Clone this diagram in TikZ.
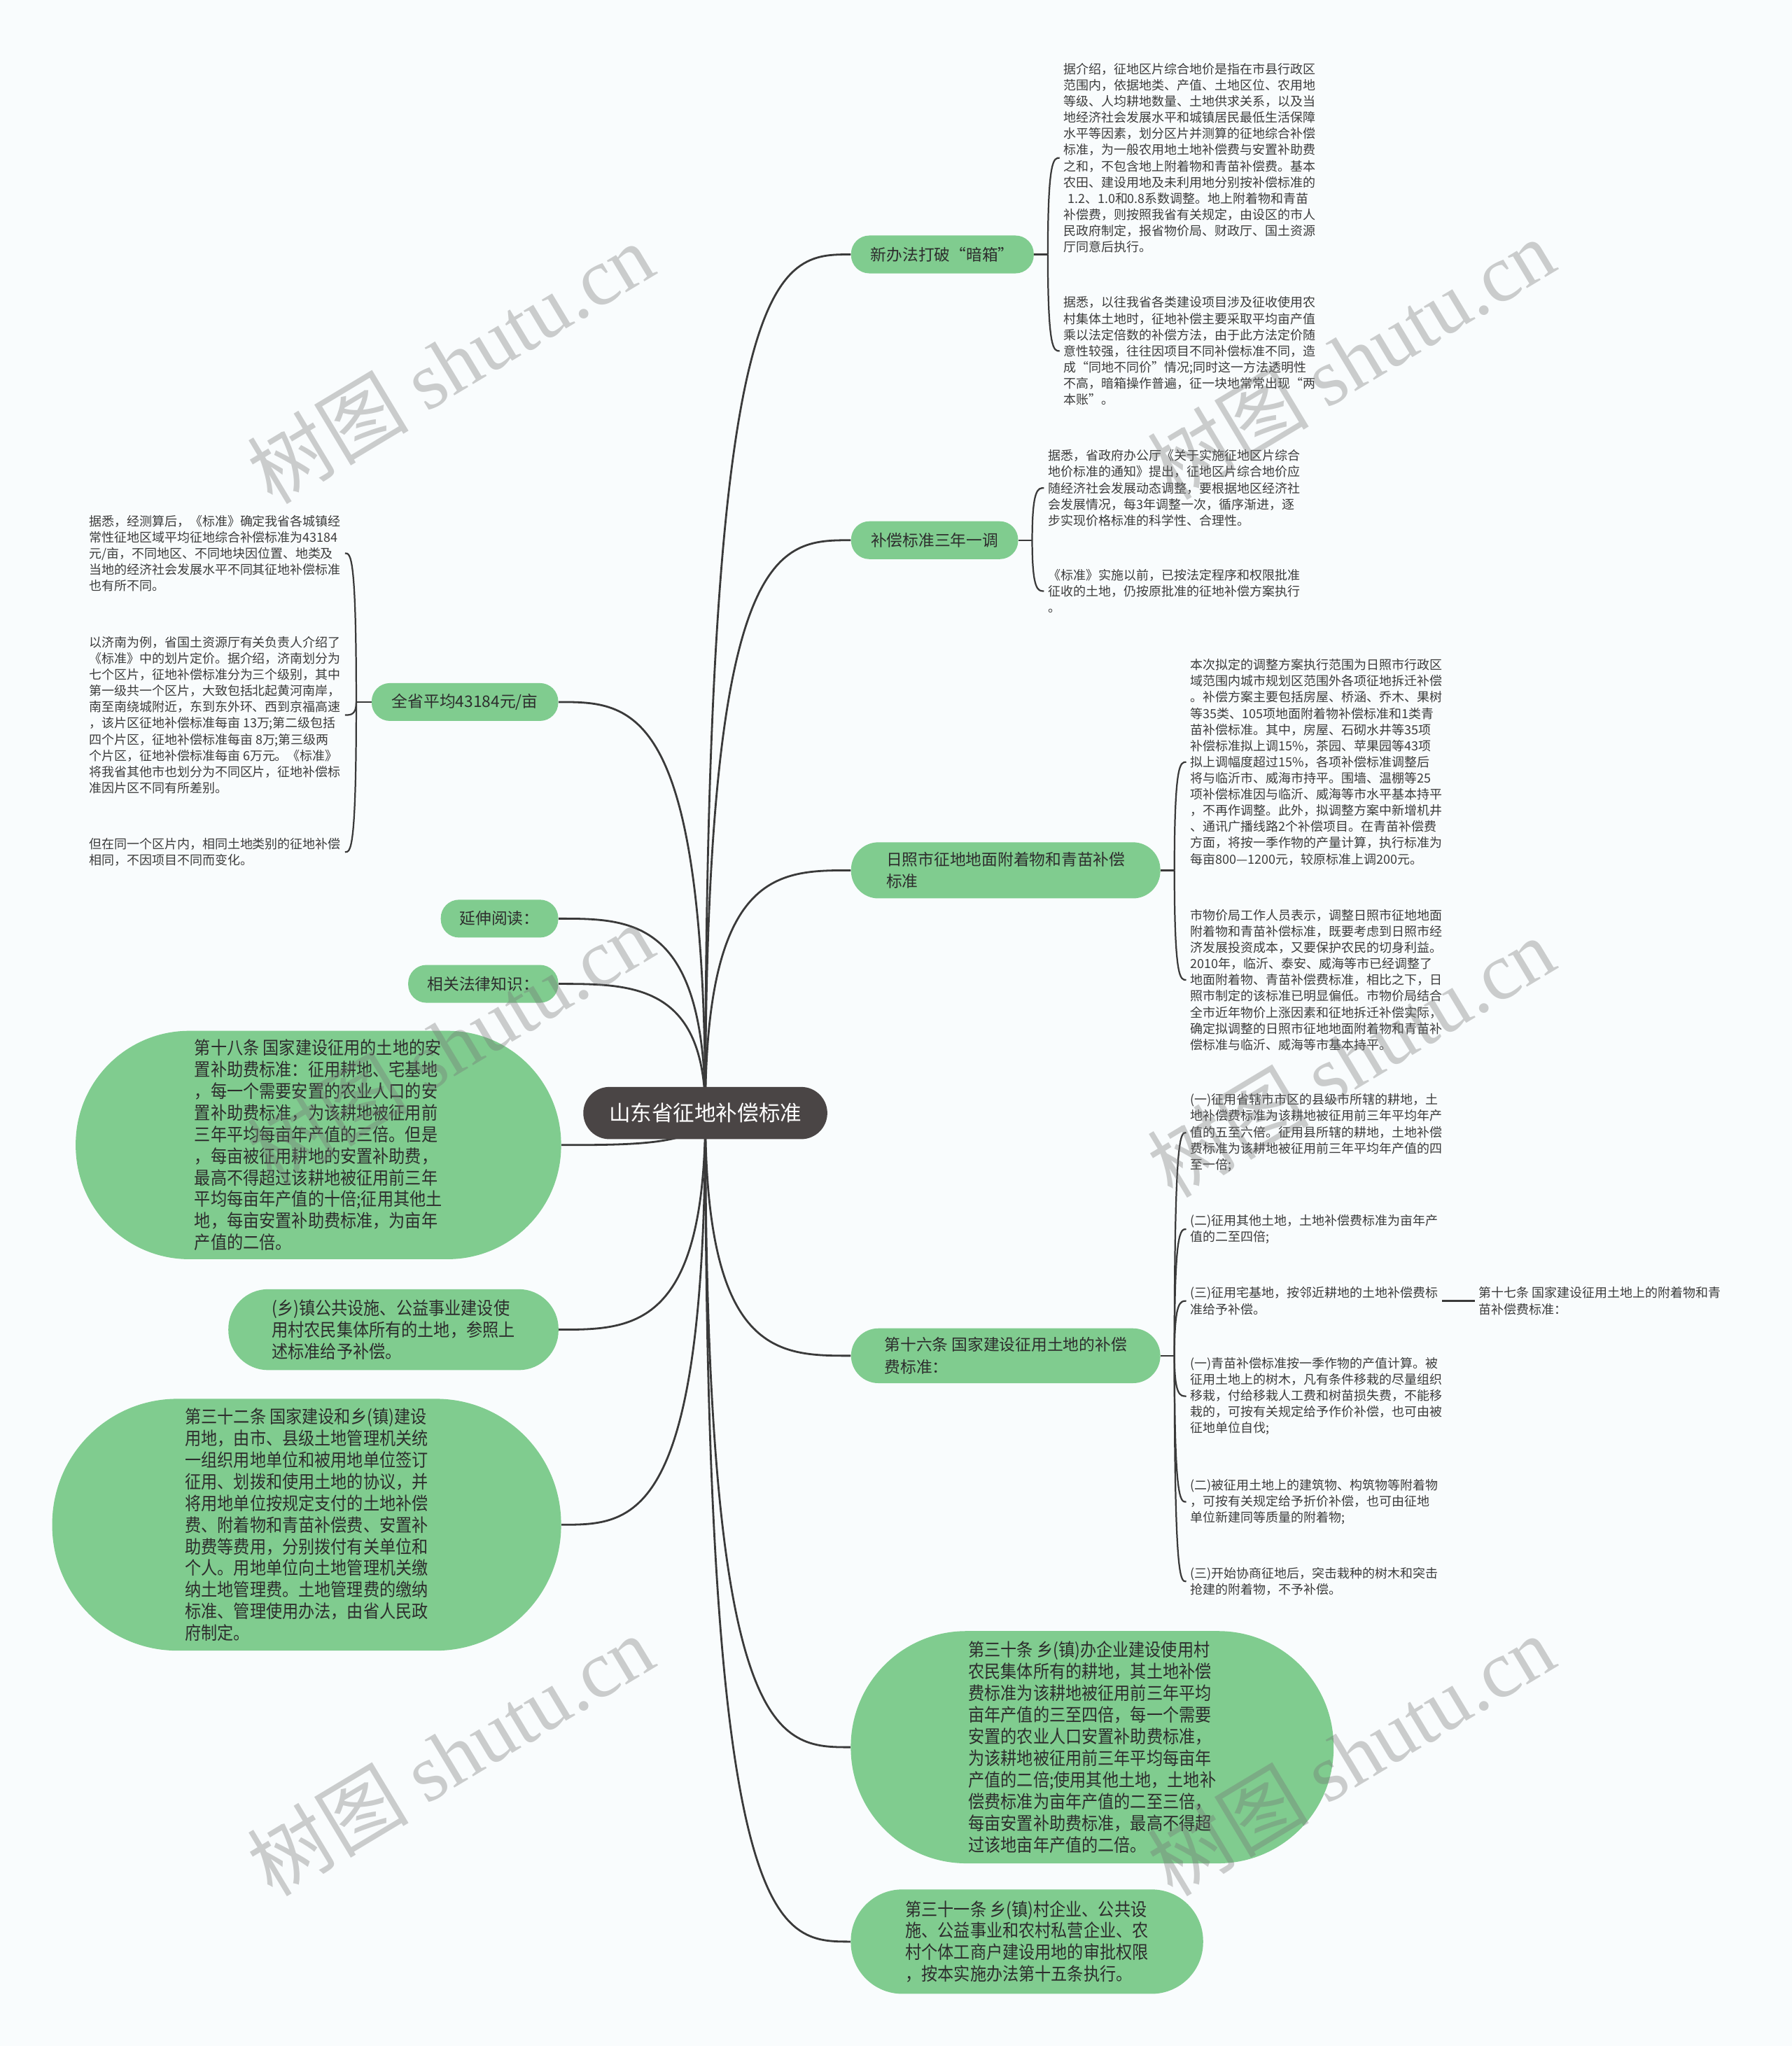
\documentclass[tikz,border=0pt]{standalone}
\usepackage{fontspec}
\setmainfont{Noto Sans CJK SC}
\newfontfamily\bubblefont[FakeStretch=0.9]{Noto Sans CJK SC}
\newfontfamily\wmlatin{Liberation Serif}
\usetikzlibrary{calc}
\definecolor{bgc}{RGB}{249,252,253}
\definecolor{grn}{RGB}{128,204,143}
\definecolor{rootc}{RGB}{74,69,69}
\definecolor{edgec}{RGB}{58,58,58}
\definecolor{txt}{RGB}{45,45,45}
\definecolor{leaftxt}{RGB}{60,60,60}
\pgfdeclarelayer{bgl}
\pgfdeclarelayer{edgelayer}
\pgfdeclarelayer{wmlayer}
\pgfsetlayers{bgl,edgelayer,main,wmlayer}
\tikzset{
 edge/.style={draw=edgec, line width=1.5pt},
 leafedge/.style={draw=edgec, line width=1.2pt},
 root/.style={fill=rootc, text=white, rounded corners=20pt, minimum width=187pt, minimum height=40pt, inner sep=0pt, font=\fontsize{16.4}{20}\selectfont},
 branch/.style={fill=grn, text=txt, rounded corners=14pt, minimum height=29pt, inner sep=0pt, align=left, font=\fontsize{12.2}{17}\selectfont},
 bubble/.style={fill=grn, text=txt, inner sep=0pt, align=left, font=\bubblefont\fontsize{13.8}{16.6}\selectfont},
 leaf/.style={text=leaftxt, inner xsep=3pt, inner ysep=0pt, align=left, font=\fontsize{9.65}{12.4}\selectfont},
 wm/.style={text=black!55, opacity=0.35, rotate=31, inner sep=0pt, font=\fontsize{62}{62}\selectfont},
}
\newcommand\cconn[2]{\draw[edge] (#1) .. controls (#1 |- #2) and ($(#1 |- #2)!0.5!(#2)$) .. (#2);}
\newcommand\lconn[2]{\draw[leafedge] (#1) .. controls (#1 |- #2) and ($(#1 |- #2)!0.5!(#2)$) .. (#2);}
\begin{document}
\begin{tikzpicture}[x=1pt,y=-1pt]
\useasboundingbox (0,0) rectangle (1373,1568);
\begin{pgfonlayer}{bgl}
\fill[bgc] (0,0) rectangle (1373,1568);
\end{pgfonlayer}

% root
\node[root] (c) at (540.5,853) {山东省征地补偿标准};

% right branches
\node[branch, anchor=west, minimum width=140pt] (b1) at (652,195) {新办法打破“暗箱”};
\node[branch, anchor=west, minimum width=128pt] (b2) at (652,414) {补偿标准三年一调};
\node[branch, anchor=west, minimum width=237pt, minimum height=43pt, rounded corners=21pt] (b3) at (652,667) {日照市征地地面附着物和青苗补偿\\标准};
\node[branch, anchor=west, minimum width=237pt, minimum height=42pt, rounded corners=21pt] (b4) at (652,1039) {第十六条 国家建设征用土地的补偿\\费标准：};
\node[bubble, minimum width=370pt, minimum height=178pt, rounded corners=88.5pt] (g4) at (837,1339) {第三十条 乡(镇)办企业建设使用村\\农民集体所有的耕地，其土地补偿\\费标准为该耕地被征用前三年平均\\亩年产值的三至四倍，每一个需要\\安置的农业人口安置补助费标准，\\为该耕地被征用前三年平均每亩年\\产值的二倍;使用其他土地，土地补\\偿费标准为亩年产值的二至三倍，\\每亩安置补助费标准，最高不得超\\过该地亩年产值的二倍。};
\node[bubble, minimum width=270pt, minimum height=80pt, rounded corners=39.5pt] (g5) at (787,1488) {第三十一条 乡(镇)村企业、公共设\\施、公益事业和农村私营企业、农\\村个体工商户建设用地的审批权限\\，按本实施办法第十五条执行。};

% left branches
\node[branch, anchor=east, minimum width=143pt] (b7) at (428,538) {全省平均43184元/亩};
\node[branch, anchor=east, minimum width=90pt] (b8) at (428,704) {延伸阅读：};
\node[branch, anchor=east, minimum width=115pt] (b9) at (428,754) {相关法律知识：};
\node[bubble, minimum width=372pt, minimum height=175pt, rounded corners=87pt] (g1) at (244,877.5) {第十八条 国家建设征用的土地的安\\置补助费标准：征用耕地、宅基地\\，每一个需要安置的农业人口的安\\置补助费标准，为该耕地被征用前\\三年平均每亩年产值的三倍。但是\\，每亩被征用耕地的安置补助费，\\最高不得超过该耕地被征用前三年\\平均每亩年产值的十倍;征用其他土\\地，每亩安置补助费标准，为亩年\\产值的二倍。};
\node[bubble, minimum width=253pt, minimum height=62pt, rounded corners=30.5pt] (g2) at (301.5,1019) {(乡)镇公共设施、公益事业建设使\\用村农民集体所有的土地，参照上\\述标准给予补偿。};
\node[bubble, minimum width=390pt, minimum height=193pt, rounded corners=96pt] (g3) at (235,1168.5) {第三十二条 国家建设和乡(镇)建设\\用地，由市、县级土地管理机关统\\一组织用地单位和被用地单位签订\\征用、划拨和使用土地的协议，并\\将用地单位按规定支付的土地补偿\\费、附着物和青苗补偿费、安置补\\助费等费用，分别拨付有关单位和\\个人。用地单位向土地管理机关缴\\纳土地管理费。土地管理费的缴纳\\标准、管理使用办法，由省人民政\\府制定。};

% leaves right
\node[leaf, anchor=west] (l1) at (812,121) {据介绍，征地区片综合地价是指在市县行政区\\范围内，依据地类、产值、土地区位、农用地\\等级、人均耕地数量、土地供求关系，以及当\\地经济社会发展水平和城镇居民最低生活保障\\水平等因素，划分区片并测算的征地综合补偿\\标准，为一般农用地土地补偿费与安置补助费\\之和，不包含地上附着物和青苗补偿费。基本\\农田、建设用地及未利用地分别按补偿标准的\\\hspace*{0.3em}1.2、1.0和0.8系数调整。地上附着物和青苗\\补偿费，则按照我省有关规定，由设区的市人\\民政府制定，报省物价局、财政厅、国土资源\\厅同意后执行。};
\node[leaf, anchor=west] (l2) at (812,269) {据悉，以往我省各类建设项目涉及征收使用农\\村集体土地时，征地补偿主要采取平均亩产值\\乘以法定倍数的补偿方法，由于此方法定价随\\意性较强，往往因项目不同补偿标准不同，造\\成“同地不同价”情况;同时这一方法透明性\\不高，暗箱操作普遍，征一块地常常出现“两\\本账”。};
\node[leaf, anchor=west] (l3) at (800,374) {据悉，省政府办公厅《关于实施征地区片综合\\地价标准的通知》提出，征地区片综合地价应\\随经济社会发展动态调整，要根据地区经济社\\会发展情况，每3年调整一次，循序渐进，逐\\步实现价格标准的科学性、合理性。};
\node[leaf, anchor=west] (l4) at (800,453) {《标准》实施以前，已按法定程序和权限批准\\征收的土地，仍按原批准的征地补偿方案执行\\。};
\node[leaf, anchor=west] (l5) at (909,584) {本次拟定的调整方案执行范围为日照市行政区\\域范围内城市规划区范围外各项征地拆迁补偿\\。补偿方案主要包括房屋、桥涵、乔木、果树\\等35类、105项地面附着物补偿标准和1类青\\苗补偿标准。其中，房屋、石砌水井等35项\\补偿标准拟上调15\%，茶园、苹果园等43项\\拟上调幅度超过15\%，各项补偿标准调整后\\将与临沂市、威海市持平。围墙、温棚等25\\项补偿标准因与临沂、威海等市水平基本持平\\，不再作调整。此外，拟调整方案中新增机井\\、通讯广播线路2个补偿项目。在青苗补偿费\\方面，将按一季作物的产量计算，执行标准为\\每亩800—1200元，较原标准上调200元。};
\node[leaf, anchor=west] (l6) at (909,751) {市物价局工作人员表示，调整日照市征地地面\\附着物和青苗补偿标准，既要考虑到日照市经\\济发展投资成本，又要保护农民的切身利益。\\2010年，临沂、泰安、威海等市已经调整了\\地面附着物、青苗补偿费标准，相比之下，日\\照市制定的该标准已明显偏低。市物价局结合\\全市近年物价上涨因素和征地拆迁补偿实际，\\确定拟调整的日照市征地地面附着物和青苗补\\偿标准与临沂、威海等市基本持平。};
\node[leaf, anchor=west] (l7) at (909,868) {(一)征用省辖市市区的县级市所辖的耕地，土\\地补偿费标准为该耕地被征用前三年平均年产\\值的五至六倍。征用县所辖的耕地，土地补偿\\费标准为该耕地被征用前三年平均年产值的四\\至一倍;};
\node[leaf, anchor=west] (l8) at (909,942) {(二)征用其他土地，土地补偿费标准为亩年产\\值的二至四倍;};
\node[leaf, anchor=west] (l9) at (909,997) {(三)征用宅基地，按邻近耕地的土地补偿费标\\准给予补偿。};
\node[leaf, anchor=west] (l17) at (1130,997) {第十七条 国家建设征用土地上的附着物和青\\苗补偿费标准：};
\node[leaf, anchor=west] (l10) at (909,1070) {(一)青苗补偿标准按一季作物的产值计算。被\\征用土地上的树木，凡有条件移栽的尽量组织\\移栽，付给移栽人工费和树苗损失费，不能移\\栽的，可按有关规定给予作价补偿，也可由被\\征地单位自伐;};
\node[leaf, anchor=west] (l11) at (909,1151) {(二)被征用土地上的建筑物、构筑物等附着物\\，可按有关规定给予折价补偿，也可由征地\\单位新建同等质量的附着物;};
\node[leaf, anchor=west] (l12) at (909,1212) {(三)开始协商征地后，突击栽种的树木和突击\\抢建的附着物，不予补偿。};

% leaves left
\node[leaf, anchor=west] (l13) at (65,424) {据悉，经测算后，《标准》确定我省各城镇经\\常性征地区域平均征地综合补偿标准为43184\\元/亩，不同地区、不同地块因位置、地类及\\当地的经济社会发展水平不同其征地补偿标准\\也有所不同。};
\node[leaf, anchor=west] (l14) at (65,548) {以济南为例，省国土资源厅有关负责人介绍了\\《标准》中的划片定价。据介绍，济南划分为\\七个区片，征地补偿标准分为三个级别，其中\\第一级共一个区片，大致包括北起黄河南岸，\\南至南绕城附近，东到东外环、西到京福高速\\，该片区征地补偿标准每亩 13万;第二级包括\\四个片区，征地补偿标准每亩 8万;第三级两\\个片区，征地补偿标准每亩 6万元。《标准》\\将我省其他市也划分为不同区片，征地补偿标\\准因片区不同有所差别。};
\node[leaf, anchor=west] (l15) at (65,653) {但在同一个区片内，相同土地类别的征地补偿\\相同，不因项目不同而变化。};

% fork points
\coordinate (f1) at (803,195);
\coordinate (f2) at (791,414);
\coordinate (f3) at (900,667);
\coordinate (f4) at (900,1039);
\coordinate (f7) at (273,538);

\begin{pgfonlayer}{edgelayer}
\cconn{c.center}{b1.west}
\cconn{c.center}{b2.west}
\cconn{c.center}{b3.west}
\cconn{c.center}{b4.west}
\cconn{c.center}{g4.west}
\cconn{c.center}{g5.west}
\cconn{c.center}{b7.east}
\cconn{c.center}{b8.east}
\cconn{c.center}{b9.east}
\cconn{c.center}{g1.east}
\cconn{c.center}{g2.east}
\cconn{c.center}{g3.east}
\draw[leafedge] (b1.east) -- (f1);
\draw[leafedge] (b2.east) -- (f2);
\draw[leafedge] (b3.east) -- (f3);
\draw[leafedge] (b4.east) -- (f4);
\draw[leafedge] (b7.west) -- (f7);
\lconn{f1}{l1.west}
\lconn{f1}{l2.west}
\lconn{f2}{l3.west}
\lconn{f2}{l4.west}
\lconn{f3}{l5.west}
\lconn{f3}{l6.west}
\lconn{f4}{l7.west}
\lconn{f4}{l8.west}
\lconn{f4}{l9.west}
\lconn{f4}{l10.west}
\lconn{f4}{l11.west}
\lconn{f4}{l12.west}
\lconn{f7}{l13.east}
\lconn{f7}{l14.east}
\lconn{f7}{l15.east}
\draw[leafedge] (l9.east) -- (l17.west);
\end{pgfonlayer}

% watermarks
\begin{pgfonlayer}{wmlayer}
\node[wm] (w1) at (345,278) {树图 {\wmlatin shutu.cn}};
\node[wm] (w2) at (1035,275) {树图 {\wmlatin shutu.cn}};
\node[wm] (w3) at (345,800) {树图 {\wmlatin shutu.cn}};
\node[wm] (w4) at (1035,810) {树图 {\wmlatin shutu.cn}};
\node[wm] (w5) at (345,1345) {树图 {\wmlatin shutu.cn}};
\node[wm] (w6) at (1035,1345) {树图 {\wmlatin shutu.cn}};
\end{pgfonlayer}
\end{tikzpicture}
\end{document}
